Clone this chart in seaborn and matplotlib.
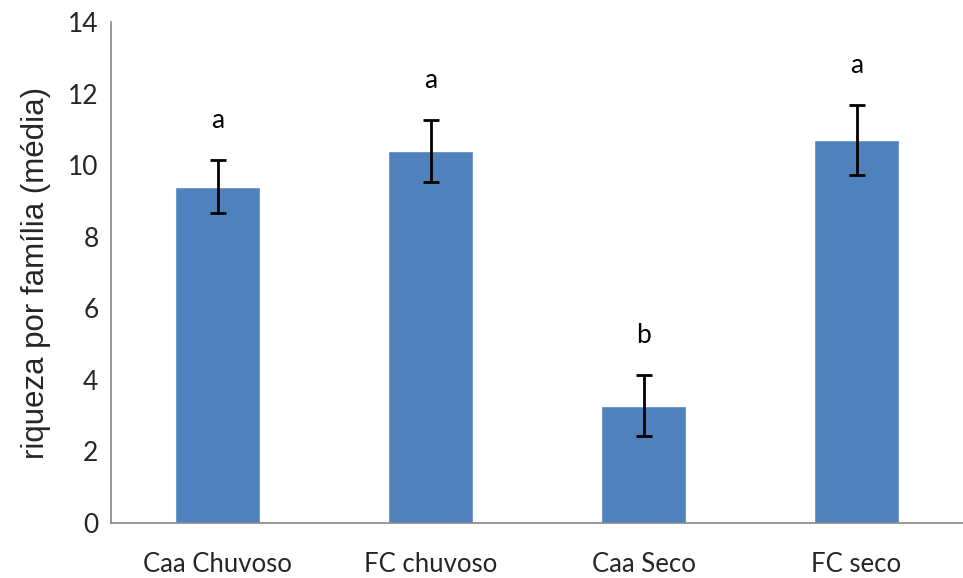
import seaborn as sns
import matplotlib.pyplot as plt
import pandas as pd
import numpy as np

# data
groups = ["Caa Chuvoso", "FC chuvoso", "Caa Seco", "FC seco"]
means = [9.40, 10.40, 3.28, 10.70]
errors = [0.75, 0.86, 0.85, 0.98]
letters = ["a", "a", "b", "a"]

sns.set_theme(style="white")
plt.rcParams['font.family'] = ['Lato', 'DejaVu Sans']

df = pd.DataFrame({"grupo": groups, "media": means, "erro": errors})

fig = plt.figure(figsize=(9.63, 5.78), dpi=100)
ax = fig.add_axes([0.1153, 0.0952, 0.8847, 0.8668])

sns.barplot(data=df, x="grupo", y="media", color="#4F81BD", saturation=1,
            width=0.4, errorbar=None, ax=ax)

xpos = np.arange(len(groups))
ax.errorbar(xpos, df["media"], yerr=df["erro"], fmt="none", ecolor="black",
            elinewidth=2, capsize=6, capthick=2)

# significance letters above the error bars
for x, m, e, t in zip(xpos, means, errors, letters):
    ax.text(x, m + e + 1.1, t, ha="center", va="center", fontsize=19, color="black")

ax.set_ylim(0, 14)
ax.set_yticks(range(0, 15, 2))
ax.set_xlim(-0.5, 3.46)

# category boundary ticks on x axis
ax.set_xticks(np.arange(-0.5, 4, 1), minor=True)
ax.tick_params(axis="x", which="major", length=0, pad=21, labelsize=18.5)
ax.tick_params(axis="x", which="minor", length=8, color="#868686", width=1.2)
ax.tick_params(axis="y", length=5, color="#868686", width=1.2, labelsize=19, pad=4)

for s in ["top", "right"]:
    ax.spines[s].set_visible(False)
for s in ["left", "bottom"]:
    ax.spines[s].set_color("#868686")
    ax.spines[s].set_linewidth(1.2)

ax.set_xlabel("")
ax.set_ylabel("riqueza por família (média)", fontsize=22.5, family="Liberation Sans", labelpad=12)

fig.savefig("out.png", dpi=100)
